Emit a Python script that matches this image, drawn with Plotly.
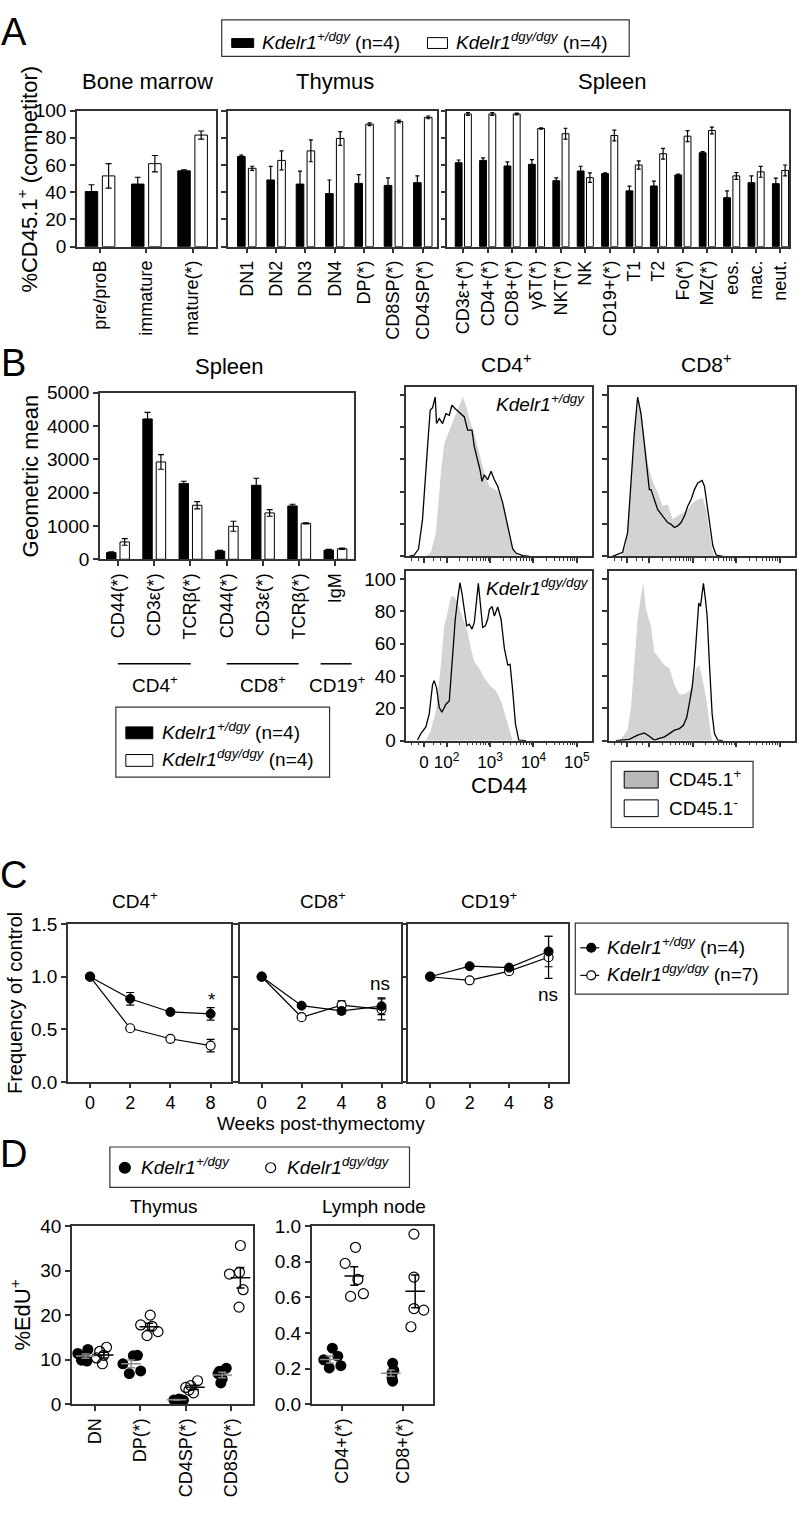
import numpy as np
import plotly.graph_objects as go

W, H = 799, 1513
FONT = "Liberation Sans, Arial, Helvetica, sans-serif"
LINE = "#333333"

def xf(px):
    return px / W

def yf(py):
    return 1 - py / H

# ---------------- Panel A data ----------------
bm_labels = ["pre/proB", "immature", "mature(*)"]
bm_het = [40.5, 46.0, 55.7]
bm_het_err = [5.0, 5.0, 0.8]
bm_hom = [52.0, 61.0, 82.0]
bm_hom_err = [9.0, 6.0, 3.0]

thy_labels = ["DN1", "DN2", "DN3", "DN4", "DP(*)", "CD8SP(*)", "CD4SP(*)"]
thy_het = [66.3, 49.0, 46.0, 39.0, 46.5, 45.0, 47.0]
thy_het_err = [1.0, 10.0, 9.5, 10.0, 6.5, 5.5, 5.0]
thy_hom = [57.6, 63.4, 70.4, 79.5, 90.0, 92.0, 95.0]
thy_hom_err = [1.5, 7.0, 8.0, 5.0, 1.0, 1.0, 1.0]

spl_labels = ["CD3ε+(*)", "CD4+(*)", "CD8+(*)", "γδT(*)", "NKT(*)", "NK", "CD19+(*)",
              "T1", "T2", "Fo(*)", "MZ(*)", "eos.", "mac.", "neut."]
spl_het = [61.7, 63.4, 59.3, 60.5, 48.5, 55.6, 53.7, 41.0, 44.6, 52.7, 69.0, 36.0, 47.0, 46.3]
spl_het_err = [2.0, 1.8, 3.0, 3.5, 2.0, 3.5, 0.6, 3.5, 3.5, 0.6, 0.8, 5.0, 5.0, 4.0]
spl_hom = [97.5, 97.5, 97.5, 86.8, 83.0, 50.7, 81.7, 60.0, 68.3, 81.2, 85.4, 52.0, 55.0, 56.0]
spl_hom_err = [1.0, 1.0, 0.6, 0.5, 4.0, 3.5, 4.0, 3.0, 4.0, 4.0, 2.5, 2.5, 4.0, 4.0]

# ---------------- Panel B data ----------------
gm_labels = ["CD44(*)", "CD3ε(*)", "TCRβ(*)", "CD44(*)", "CD3ε(*)", "TCRβ(*)", "IgM"]
gm_het = [200, 4210, 2270, 245, 2220, 1600, 275]
gm_het_err = [20, 200, 70, 20, 210, 50, 20]
gm_hom = [520, 2920, 1620, 990, 1390, 1075, 315]
gm_hom_err = [100, 220, 110, 150, 100, 15, 20]

# histogram curves (x in display decades, y in % of max)
tl_line_t = [1.138, 1.254, 1.354, 1.446, 1.562, 1.623, 1.677, 1.738, 1.769, 1.831, 1.908, 1.985, 2.062, 2.123,
             2.200, 2.254, 2.331, 2.408, 2.485, 2.585, 2.638, 2.715, 2.769, 2.815, 2.869, 2.946, 3.023, 3.100,
             3.177, 3.292, 3.369, 3.446, 3.523, 3.600, 3.754, 3.908]
tl_line_y = [0, 0.8, 4.5, 22.9, 67.9, 90.4, 92.0, 98.6, 82.2, 85.3, 82.2, 88.3, 87.3, 93.5, 91.4, 90.0, 88.3,
             86.3, 78.1, 78.1, 67.9, 59.7, 53.6, 46.4, 50.5, 47.4, 52.6, 47.4, 43.4, 33.1, 22.9, 12.7, 4.5, 2.0,
             0.4, 0]
tl_fill_t = [1.523, 1.638, 1.754, 1.869, 1.946, 2.062, 2.177, 2.292, 2.369, 2.446, 2.523, 2.638, 2.754, 2.869,
             2.985, 3.100, 3.177, 3.254, 3.331, 3.408, 3.485, 3.562, 3.677]
tl_fill_y = [0, 2.5, 14.7, 51.5, 69.9, 78.1, 86.3, 93.5, 98.6, 93.5, 85.3, 76.1, 63.8, 51.5, 43.4, 41.3, 40.3,
             35.2, 29.0, 19.8, 8.6, 2.5, 0]

tr_line_t = [1.154, 1.385, 1.500, 1.577, 1.654, 1.731, 1.808, 1.885, 1.962, 2.000, 2.038, 2.115, 2.192, 2.308,
             2.423, 2.500, 2.577, 2.654, 2.731, 2.808, 2.885, 2.962, 3.038, 3.115, 3.215, 3.269, 3.331, 3.385,
             3.462, 3.538, 3.692]
tr_line_y = [0, 2.5, 14.7, 45.4, 76.1, 98.6, 88.3, 69.9, 51.5, 41.3, 41.3, 35.2, 29.0, 24.9, 20.9, 19.8, 17.8,
             18.8, 20.9, 24.9, 31.1, 35.2, 41.3, 45.4, 47.0, 43.4, 31.1, 18.8, 6.5, 0.8, 0]
tr_fill_t = [1.346, 1.462, 1.577, 1.677, 1.754, 1.846, 1.962, 2.062, 2.192, 2.308, 2.423, 2.538, 2.654, 2.769,
             2.885, 3.000, 3.115, 3.231, 3.308, 3.385, 3.446, 3.500]
tr_fill_y = [0, 6.5, 45.4, 82.2, 96.5, 82.2, 57.7, 47.4, 39.3, 31.1, 32.1, 22.9, 24.9, 27.0, 29.0, 33.1, 35.2,
             36.2, 29.0, 14.7, 4.5, 0]

bl_line_t = [1.331, 1.408, 1.523, 1.600, 1.677, 1.715, 1.769, 1.831, 1.892, 1.985, 2.062, 2.138, 2.200, 2.254,
             2.308, 2.354, 2.408, 2.462, 2.523, 2.585, 2.638, 2.692, 2.731, 2.769, 2.831, 2.892, 2.946, 2.985,
             3.046, 3.100, 3.177, 3.254, 3.331, 3.408, 3.462, 3.523, 3.585, 3.662, 3.831]
bl_line_y = [0.4, 4.4, 8.5, 16.6, 34.7, 37.2, 32.7, 20.6, 17.6, 22.6, 24.6, 54.9, 75.2, 87.3, 97.8, 91.3, 81.2,
             71.1, 72.1, 69.1, 73.1, 89.3, 97.4, 87.3, 70.1, 71.1, 75.2, 81.2, 83.2, 77.2, 82.8, 75.2, 57.0,
             46.9, 47.3, 30.7, 10.5, 0.4, 0]
bl_fill_t = [1.523, 1.638, 1.754, 1.869, 1.946, 2.023, 2.100, 2.177, 2.254, 2.331, 2.408, 2.485, 2.562, 2.638,
             2.754, 2.869, 2.985, 3.138, 3.254, 3.369, 3.446, 3.523]
bl_fill_y = [0, 6.5, 18.6, 46.9, 71.1, 79.2, 89.3, 89.3, 85.3, 79.2, 73.1, 67.1, 57.0, 48.9, 44.8, 38.8, 34.7,
             30.7, 24.6, 14.5, 6.5, 0]

br_line_t = [1.231, 1.538, 1.731, 1.885, 2.000, 2.115, 2.231, 2.346, 2.462, 2.577, 2.692, 2.785, 2.862, 2.923,
             2.985, 3.038, 3.092, 3.138, 3.177, 3.215, 3.246, 3.292, 3.331, 3.385, 3.446, 3.500, 3.577, 3.692]
br_line_y = [0, 0.8, 3.4, 4.8, 2.8, 0.4, 1.4, 2.4, 4.4, 6.5, 7.5, 9.5, 14.5, 24.6, 32.7, 46.9, 71.1, 85.3,
             83.2, 93.3, 97.4, 87.3, 77.2, 46.9, 16.6, 4.4, 0.4, 0]
br_fill_t = [1.308, 1.500, 1.577, 1.654, 1.731, 1.808, 1.862, 1.923, 2.038, 2.115, 2.231, 2.346, 2.462, 2.577,
             2.692, 2.808, 2.923, 3.000, 3.077, 3.154, 3.231, 3.308, 3.385, 3.446]
br_fill_y = [0, 6.5, 20.6, 46.9, 75.2, 89.3, 97.4, 81.2, 71.1, 54.9, 50.9, 46.9, 44.8, 34.7, 28.7, 28.7, 30.7,
             36.8, 44.8, 46.9, 36.8, 26.7, 10.5, 0]

hist_tickvals = [1.48, 2, 3, 4, 5]
hist_ticktext = ["0", "10<sup>2</sup>", "10<sup>3</sup>", "10<sup>4</sup>", "10<sup>5</sup>"]

# ---------------- Panel C data ----------------
weeks = ["0", "2", "4", "8"]
cd4_het = [1.0, 0.79, 0.665, 0.647]
cd4_het_err = [0, 0.06, 0.02, 0.06]
cd4_hom = [1.0, 0.51, 0.41, 0.345]
cd4_hom_err = [0, 0.015, 0.015, 0.06]
cd8_het = [1.0, 0.725, 0.675, 0.72]
cd8_het_err = [0, 0.02, 0.03, 0.08]
cd8_hom = [1.0, 0.615, 0.73, 0.69]
cd8_hom_err = [0, 0.015, 0.04, 0.1]
cd19_het = [1.0, 1.10, 1.087, 1.24]
cd19_het_err = [0, 0.015, 0.015, 0.145]
cd19_hom = [1.0, 0.966, 1.053, 1.185]
cd19_hom_err = [0, 0.015, 0.015, 0.2]

# ---------------- Panel D data ----------------
thyD_labels = ["DN", "DP(*)", "CD4SP(*)", "CD8SP(*)"]
thyD_het = [[11.4, 12.3, 9.9, 9.7, 10.8],
            [9.1, 6.9, 10.9, 11.0, 7.5],
            [1.0, 0.9, 1.1, 0.9, 1.2],
            [8.1, 7.4, 4.8, 5.7, 6.9]]
thyD_hom = [[11.9, 12.8, 9.1, 10.4, 11.0],
            [20.0, 17.8, 15.4, 16.3, 17.5],
            [5.3, 4.2, 2.6, 3.8, 3.2],
            [35.6, 29.6, 29.2, 25.7, 21.8]]
lnD_labels = ["CD4+(*)", "CD8+(*)"]
lnD_het = [[0.25, 0.315, 0.204, 0.27, 0.217],
           [0.23, 0.148, 0.13, 0.176, 0.19]]
lnD_hom = [[0.79, 0.88, 0.70, 0.605, 0.62],
           [0.954, 0.713, 0.537, 0.528, 0.435]]

# horizontal scatter of the dots (layout only)
thyD_het_dx = [[-0.37, -0.15, -0.29, -0.17, -0.24],
               [-0.38, -0.24, -0.15, -0.06, 0.01],
               [-0.26, -0.18, -0.11, -0.05, -0.15],
               [-0.11, -0.26, -0.23, -0.20, -0.29]]
thyD_hom_dx = [[0.11, 0.26, 0.17, 0.04, 0.20],
               [0.22, 0.01, 0.15, 0.39, 0.26],
               [0.26, 0.11, 0.17, 0.00, 0.07],
               [0.20, 0.18, -0.04, 0.26, 0.17]]
lnD_het_dx = [[-0.30, -0.16, -0.21, -0.07, -0.02],
              [-0.17, -0.18, -0.17, -0.18, -0.15]]
lnD_hom_dx = [[0.05, 0.22, 0.26, 0.14, 0.35],
              [0.18, 0.18, 0.18, 0.34, 0.13]]

# ---------------- figure ----------------
fig = go.Figure()


def add_bar_pair(xa, ya, het, het_err, hom, hom_err, w=0.27, d=0.185, cap=3):
    idx = np.arange(len(het))
    fig.add_trace(go.Bar(x=idx - d, y=het, width=w, xaxis=xa, yaxis=ya, showlegend=False,
                         marker=dict(color="black", line=dict(color="black", width=1)),
                         error_y=dict(type="data", array=het_err, color="black", thickness=1.2, width=cap)))
    fig.add_trace(go.Bar(x=idx + d, y=hom, width=w, xaxis=xa, yaxis=ya, showlegend=False,
                         marker=dict(color="white", line=dict(color="black", width=1)),
                         error_y=dict(type="data", array=hom_err, color="black", thickness=1.2, width=cap)))


add_bar_pair("x", "y", bm_het, bm_het_err, bm_hom, bm_hom_err)
add_bar_pair("x2", "y2", thy_het, thy_het_err, thy_hom, thy_hom_err, w=0.26, d=0.185, cap=2)
add_bar_pair("x3", "y3", spl_het, spl_het_err, spl_hom, spl_hom_err, w=0.28, d=0.19, cap=2)
add_bar_pair("x4", "y4", gm_het, gm_het_err, gm_hom, gm_hom_err, w=0.26, d=0.185, cap=3)

# histograms
for (xa, ya, ft, fy, lt, ly) in [("x5", "y5", tl_fill_t, tl_fill_y, tl_line_t, tl_line_y),
                                 ("x6", "y6", tr_fill_t, tr_fill_y, tr_line_t, tr_line_y),
                                 ("x7", "y7", bl_fill_t, bl_fill_y, bl_line_t, bl_line_y),
                                 ("x8", "y8", br_fill_t, br_fill_y, br_line_t, br_line_y)]:
    fig.add_trace(go.Scatter(x=ft, y=fy, mode="lines", fill="tozeroy", fillcolor="#d3d3d3",
                             line=dict(width=0, color="#d3d3d3"), xaxis=xa, yaxis=ya, showlegend=False))
    fig.add_trace(go.Scatter(x=lt, y=ly, mode="lines", line=dict(width=1.3, color="black"),
                             xaxis=xa, yaxis=ya, showlegend=False))

# panel C
widx = list(range(len(weeks)))
for (xa, ya, het, he, hom, hoe) in [("x9", "y9", cd4_het, cd4_het_err, cd4_hom, cd4_hom_err),
                                    ("x10", "y10", cd8_het, cd8_het_err, cd8_hom, cd8_hom_err),
                                    ("x11", "y11", cd19_het, cd19_het_err, cd19_hom, cd19_hom_err)]:
    fig.add_trace(go.Scatter(x=widx, y=hom, mode="lines+markers", xaxis=xa, yaxis=ya, showlegend=False,
                             line=dict(color="black", width=1.2),
                             marker=dict(symbol="circle", size=9, color="white", line=dict(color="black", width=1.2)),
                             error_y=dict(type="data", array=hoe, color="black", thickness=1.2, width=4)))
    fig.add_trace(go.Scatter(x=widx, y=het, mode="lines+markers", xaxis=xa, yaxis=ya, showlegend=False,
                             line=dict(color="black", width=1.2),
                             marker=dict(symbol="circle", size=9, color="black", line=dict(color="black", width=1)),
                             error_y=dict(type="data", array=he, color="black", thickness=1.2, width=4)))


# panel D
def add_dots(xa, ya, het, hom, het_dx, hom_dx):
    for i in range(len(het)):
        fig.add_trace(go.Scatter(x=[i + d for d in het_dx[i]], y=het[i], mode="markers", xaxis=xa, yaxis=ya,
                                 showlegend=False, marker=dict(symbol="circle", size=11, color="black")))
        fig.add_trace(go.Scatter(x=[i + d for d in hom_dx[i]], y=hom[i], mode="markers", xaxis=xa, yaxis=ya,
                                 showlegend=False,
                                 marker=dict(symbol="circle-open", size=10, color="black", line=dict(width=1.2))))
    for vals, off, col in [(het, -0.2, "#8a8a8a"), (hom, 0.2, "black")]:
        means = [float(np.mean(v)) for v in vals]
        sems = [float(np.std(v, ddof=1) / np.sqrt(len(v))) for v in vals]
        fig.add_trace(go.Scatter(x=[i + off for i in range(len(vals))], y=means, mode="markers",
                                 xaxis=xa, yaxis=ya, showlegend=False,
                                 marker=dict(symbol="line-ew", size=14, color=col, line=dict(width=1.5, color=col)),
                                 error_y=dict(type="data", array=sems, color=col, thickness=1.5, width=4)))


add_dots("x12", "y12", thyD_het, thyD_hom, thyD_het_dx, thyD_hom_dx)
add_dots("x13", "y13", lnD_het, lnD_hom, lnD_het_dx, lnD_hom_dx)

# ---------------- axes ----------------
base_axis = dict(showline=True, linecolor=LINE, linewidth=1.5, mirror=True, ticks="outside",
                 ticklen=5, tickwidth=1.5, tickcolor=LINE, showgrid=False, zeroline=False,
                 tickfont=dict(size=19, color="black", family=FONT), fixedrange=True)


def xax(l, r, anchor, **kw):
    d = dict(base_axis)
    d.update(domain=[xf(l), xf(r)], anchor=anchor)
    d.update(kw)
    return d


def yax(t, b, anchor, **kw):
    d = dict(base_axis)
    d.update(domain=[yf(b), yf(t)], anchor=anchor)
    d.update(kw)
    return d


cat = lambda labels: dict(tickmode="array", tickvals=list(range(len(labels))), ticktext=labels, tickangle=-90)
f18 = dict(size=18, color="black", family=FONT)
f17 = dict(size=17, color="black", family=FONT)

minor_vals = [1.2, 1.35, 1.7, 1.85] + [float(np.log10(k * 10 ** d)) for d in (2, 3, 4) for k in range(2, 10)]
hist_x = dict(tickmode="array", tickvals=hist_tickvals, ticktext=hist_ticktext, range=[1.077, 5.354],
              tickangle=0, tickfont=f17,
              minor=dict(tickmode="array", tickvals=minor_vals, ticks="outside", ticklen=3,
                         tickcolor=LINE, tickwidth=1, showgrid=False))
hist_y = dict(tickmode="array", tickvals=[0, 20, 40, 60, 80, 100], range=[0, 105])
week_x = dict(range=[-0.55, 3.5], tickmode="array", tickvals=widx, ticktext=weeks, tickangle=0,
              tickfont=f18, ticklen=4)

layout_axes = dict(
    xaxis=xax(77, 216, "y", range=[-0.5, 2.5], tickfont=f18, **cat(bm_labels)),
    yaxis=yax(102, 240, "x", range=[0, 100], dtick=20, tick0=0),
    xaxis2=xax(228, 438, "y2", range=[-0.65, 6.5], tickfont=f18, **cat(thy_labels)),
    yaxis2=yax(102, 240, "x2", range=[0, 100], dtick=20, tick0=0, showticklabels=False),
    xaxis3=xax(448, 790, "y3", range=[-0.65, 13.35], tickfont=f18, **cat(spl_labels)),
    yaxis3=yax(102, 240, "x3", range=[0, 100], dtick=20, tick0=0, showticklabels=False),
    xaxis4=xax(100, 354, "y4", range=[-0.5, 6.5], tickfont=f18, **cat(gm_labels)),
    yaxis4=yax(388, 557, "x4", range=[0, 5000], dtick=1000, tick0=0),
    xaxis5=xax(407, 593, "y5", showticklabels=False, **hist_x),
    yaxis5=yax(382, 554, "x5", showticklabels=False, **hist_y),
    xaxis6=xax(610, 796, "y6", showticklabels=False, **hist_x),
    yaxis6=yax(382, 554, "x6", showticklabels=False, **hist_y),
    xaxis7=xax(407, 593, "y7", **hist_x),
    yaxis7=yax(569, 741, "x7", **hist_y),
    xaxis8=xax(610, 796, "y8", showticklabels=False, **hist_x),
    yaxis8=yax(569, 741, "x8", showticklabels=False, **hist_y),
    xaxis9=xax(68, 231, "y9", **week_x),
    yaxis9=yax(927, 1087, "x9", range=[0, 1.5], dtick=0.5, tick0=0, tickformat=".1f"),
    xaxis10=xax(240, 402, "y10", **week_x),
    yaxis10=yax(927, 1087, "x10", range=[0, 1.5], dtick=0.5, tick0=0, showticklabels=False),
    xaxis11=xax(409, 569, "y11", **week_x),
    yaxis11=yax(927, 1087, "x11", range=[0, 1.5], dtick=0.5, tick0=0, showticklabels=False),
    xaxis12=xax(72, 253, "y12", range=[-0.5, 3.47], tickfont=f18, **cat(thyD_labels)),
    yaxis12=yax(1233, 1414, "x12", range=[0, 40], dtick=10, tick0=0),
    xaxis13=xax(312, 434, "y13", range=[-0.5, 1.5], tickfont=f18, **cat(lnD_labels)),
    yaxis13=yax(1233, 1414, "x13", range=[0, 1], dtick=0.2, tick0=0, tickformat=".1f"),
)

# ---------------- annotations & shapes ----------------
ann = []
shp = []


def txt(x, y, s, size=19, xanchor="center", yanchor="middle", angle=0):
    ann.append(dict(x=xf(x), y=yf(y), xref="paper", yref="paper", text=s, showarrow=False,
                    font=dict(family=FONT, size=size, color="black"), xanchor=xanchor, yanchor=yanchor,
                    textangle=angle))


def rect(x0, y0, x1, y1, fill="rgba(0,0,0,0)", line=LINE, lw=1.2):
    shp.append(dict(type="rect", xref="paper", yref="paper", x0=xf(x0), x1=xf(x1), y0=yf(y1), y1=yf(y0),
                    fillcolor=fill, line=dict(color=line, width=lw)))


def hline(x0, x1, y, lw=1.5):
    shp.append(dict(type="line", xref="paper", yref="paper", x0=xf(x0), x1=xf(x1), y0=yf(y), y1=yf(y),
                    line=dict(color="black", width=lw)))


def dot(cx, cy, r, fill):
    shp.append(dict(type="circle", xref="paper", yref="paper", x0=xf(cx - r), x1=xf(cx + r),
                    y0=yf(cy + r), y1=yf(cy - r), fillcolor=fill, line=dict(color="black", width=1.2)))


HET = "<i>Kdelr1<sup>+/dgy</sup></i>"
HOM = "<i>Kdelr1<sup>dgy/dgy</sup></i>"

# Panel letters
txt(14, 22, "A", size=38)
txt(14, 358, "B", size=38)
txt(14, 877, "C", size=38)
txt(14, 1160, "D", size=38)

# Panel A
rect(222, 10, 630, 47)
rect(232, 29, 254, 38, fill="black", line="black", lw=1)
txt(260, 31, HET + " (n=4)", xanchor="left")
rect(428, 28, 448, 39, fill="white", line="black", lw=1)
txt(455, 31, HOM + " (n=4)", xanchor="left")
txt(148, 72, "Bone marrow", size=22)
txt(335, 72, "Thymus", size=22)
txt(613, 72, "Spleen", size=22)
txt(27, 171, "%CD45.1<sup>+</sup> (competitor)", size=22, angle=-90)

# Panel B
txt(230, 362, "Spleen", size=22)
txt(30, 472, "Geometric mean", size=22, angle=-90)
hline(118, 191, 663)
hline(227, 299, 663)
hline(321, 352, 663)
txt(155, 683, "CD4<sup>+</sup>", size=19)
txt(263, 683, "CD8<sup>+</sup>", size=19)
txt(338, 683, "CD19<sup>+</sup>", size=19)
rect(116, 707, 330, 778)
rect(126, 727, 153, 739, fill="black", line="black", lw=1)
txt(160, 731, HET + " (n=4)", xanchor="left")
rect(126, 755, 153, 767, fill="white", line="black", lw=1)
txt(160, 759, HOM + " (n=4)", xanchor="left")
txt(507, 358, "CD4<sup>+</sup>", size=21)
txt(707, 358, "CD8<sup>+</sup>", size=21)
txt(588, 399, HET, size=19, xanchor="right")
txt(592, 585, HOM, size=19, xanchor="right")
txt(500, 786, "CD44", size=22)
rect(612, 762, 754, 829)
rect(625, 772, 659, 789, fill="#b9b9b9", line="black", lw=1)
txt(668, 779, "CD45.1<sup>+</sup>", size=19, xanchor="left")
rect(625, 801, 659, 818, fill="white", line="black", lw=1)
txt(668, 808, "CD45.1<sup>-</sup>", size=19, xanchor="left")

# Panel C
txt(135, 903, "CD4<sup>+</sup>", size=19)
txt(323, 903, "CD8<sup>+</sup>", size=19)
txt(490, 903, "CD19<sup>+</sup>", size=19)
txt(15, 1007, "Frequency of control", size=20, angle=-90)
txt(321, 1129, "Weeks post-thymectomy", size=19)
txt(212, 1003, "*", size=19)
txt(380, 987, "ns", size=19)
txt(549, 998, "ns", size=19)
rect(576, 926, 789, 998)
hline(581, 600, 951, lw=1.2)
dot(592, 951, 4.5, "black")
txt(606, 949, HET + " (n=4)", xanchor="left")
hline(581, 600, 979, lw=1.2)
dot(592, 979, 4.5, "white")
txt(606, 977, HOM + " (n=7)", xanchor="left")

# Panel D
rect(110, 1153, 410, 1194)
dot(125, 1174, 5.5, "black")
txt(139, 1172, HET, xanchor="left")
dot(271, 1174, 5, "white")
txt(285, 1172, HOM, xanchor="left")
txt(164, 1213, "Thymus", size=19)
txt(374, 1213, "Lymph node", size=19)
txt(20, 1323, "%EdU<sup>+</sup>", size=22, angle=-90)

fig.update_layout(
    width=W, height=H, margin=dict(l=0, r=0, t=0, b=0),
    paper_bgcolor="white", plot_bgcolor="white",
    barmode="overlay", showlegend=False,
    font=dict(family=FONT, size=19, color="black"),
    annotations=ann, shapes=shp,
    **layout_axes,
)

page_js = ("document.documentElement.style.margin='0';document.documentElement.style.overflow='hidden';"
           "document.body.style.margin='0';document.body.style.padding='0';document.body.style.overflow='hidden';"
           "var gd=document.getElementById('{plot_id}');gd.style.display='block';"
           "if(gd.parentElement){gd.parentElement.style.margin='0';gd.parentElement.style.lineHeight='0';}")

fig.write_html("out.html", config={"displayModeBar": False}, post_script=page_js)
